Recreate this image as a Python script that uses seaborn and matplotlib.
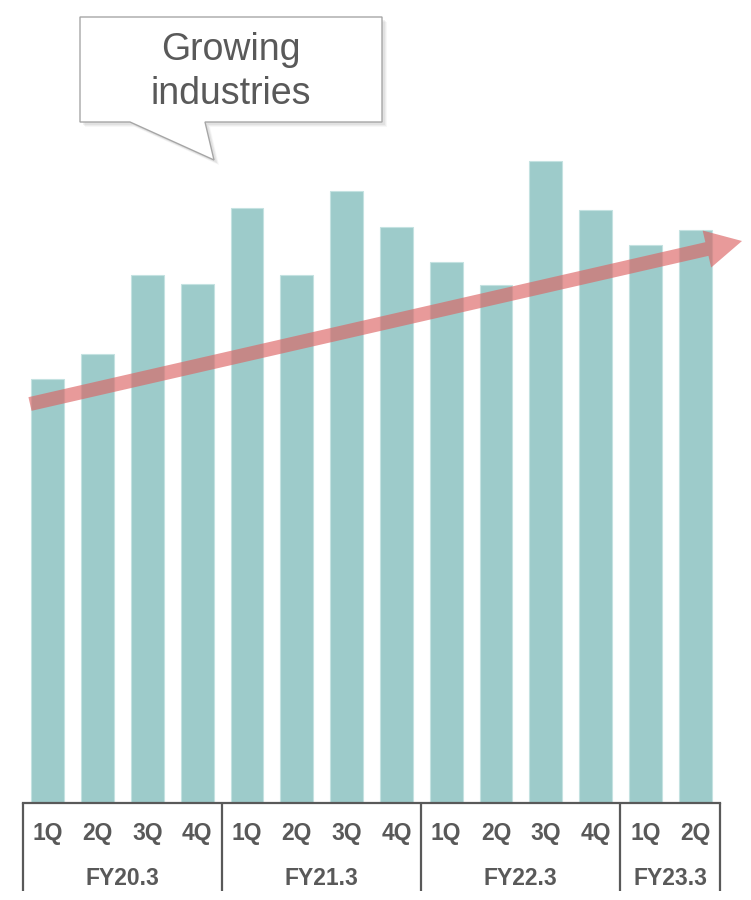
"""
Quarterly sales bars for growing industries, with a trend arrow and callout.
"""

import matplotlib.pyplot as plt
import pandas as pd
import seaborn as sns
from matplotlib.patches import FancyArrow, Polygon

sns.set_theme(style="white")
plt.rcParams["font.family"] = ["Liberation Sans", "DejaVu Sans"]

# Data (arbitrary units)
quarters = ["1Q", "2Q", "3Q", "4Q",
            "1Q", "2Q", "3Q", "4Q",
            "1Q", "2Q", "3Q", "4Q",
            "1Q", "2Q"]
fiscal_years = ["FY20.3", "FY21.3", "FY22.3", "FY23.3"]
quarters_per_year = [4, 4, 4, 2]
values = [424, 449, 528, 519,
          595, 528, 612, 576,
          541, 518, 642, 593,
          558, 573]

fy_col = [fy for fy, n in zip(fiscal_years, quarters_per_year) for _ in range(n)]
df = pd.DataFrame({
    "period": [f"{fy} {q}" for fy, q in zip(fy_col, quarters)],
    "value": values,
})

TEXT = "#595959"
BAR = "#9DCBCA"

fig = plt.figure(figsize=(7.51, 9.0), dpi=100)
ax = fig.add_axes([23 / 751, 97 / 900, 697 / 751, 803 / 900])

sns.barplot(data=df, x="period", y="value", color=BAR, saturation=1,
            width=0.66, edgecolor="#C4E2E1", linewidth=0.8, ax=ax)

ax.set_xlim(-0.5, len(values) - 0.5)
ax.set_ylim(0, 803)
ax.set_xlabel("")
ax.set_ylabel("")
ax.set_yticks([])
ax.set_xticks(range(len(values)))
ax.set_xticklabels(quarters, fontsize=16.5, fontweight="bold", color=TEXT)
ax.tick_params(axis="x", length=0, pad=14)
for side in ["left", "right", "top"]:
    ax.spines[side].set_visible(False)
ax.spines["bottom"].set_color(TEXT)
ax.spines["bottom"].set_linewidth(1.6)

# Group separators and fiscal year labels
trans = ax.get_xaxis_transform()
start = 0
bounds = [-0.5]
for fy, n in zip(fiscal_years, quarters_per_year):
    center = start + (n - 1) / 2
    ax.text(center, -0.0935, fy, transform=trans, ha="center", va="center",
            fontsize=16.5, fontweight="bold", color=TEXT)
    start += n
    bounds.append(start - 0.5)
for b in bounds:
    ax.plot([b, b], [0, -0.109], transform=trans, color=TEXT, lw=1.6,
            clip_on=False, solid_capstyle="butt")

# Overlay in pixel coordinates for arrow and callout
ov = fig.add_axes([0, 0, 1, 1], zorder=5)
ov.set_xlim(0, 751)
ov.set_ylim(900, 0)
ov.axis("off")
ov.patch.set_alpha(0)

# Trend arrow
ov.add_patch(FancyArrow(30, 404, 712, -163, width=14, head_width=38,
                        head_length=36, length_includes_head=True,
                        color="#DC6464", alpha=0.65, lw=0))

# Callout bubble
bubble = [(80, 17), (382, 17), (382, 122), (205, 122), (214, 160),
          (130, 122), (80, 122)]
for k, a in [(5, 0.06), (4, 0.08), (3, 0.10)]:
    shadow = [(x + k, y + k) for x, y in bubble]
    ov.add_patch(Polygon(shadow, closed=True, facecolor="#7F7F7F",
                         edgecolor="none", alpha=a))
ov.add_patch(Polygon(bubble, closed=True, facecolor="white",
                     edgecolor="#A6A6A6", lw=1))
ov.text(231, 72, "Growing\nindustries", ha="center", va="center",
        fontsize=27, color=TEXT, linespacing=1.3)

fig.savefig("out.png", dpi=100)
plt.close(fig)
